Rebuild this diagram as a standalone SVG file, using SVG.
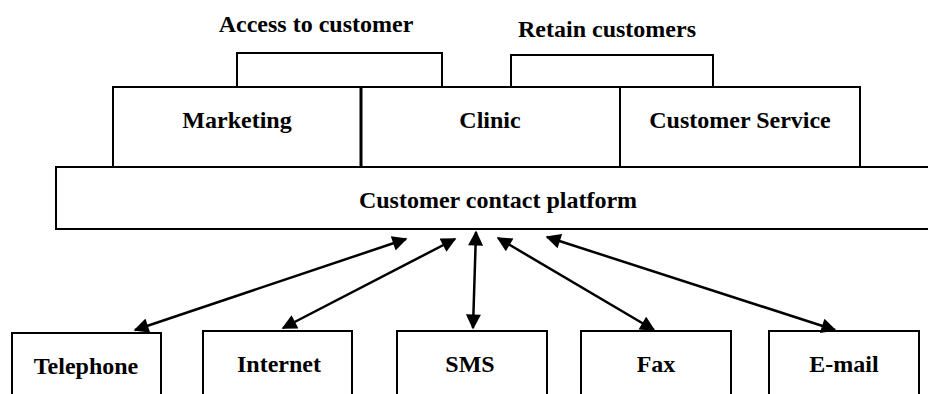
<svg xmlns="http://www.w3.org/2000/svg" width="928" height="394" viewBox="0 0 928 394">
<defs>
<style>
.box{fill:#fff;stroke:#000;stroke-width:2}
.br{fill:none;stroke:#000;stroke-width:2}
.t{font-family:"Liberation Serif","Times New Roman",serif;font-weight:bold;font-size:24px;fill:#000;text-anchor:middle}
.c{stroke:#000;stroke-width:2.5;fill:none;marker-start:url(#ah);marker-end:url(#ah)}
</style>
<marker id="ah" viewBox="0 0 10 10" refX="9" refY="5" markerWidth="6.5" markerHeight="6" orient="auto-start-reverse" markerUnits="strokeWidth">
<path d="M0,0 L10,5 L0,10 Z" fill="#000"/>
</marker>
</defs>
<rect width="928" height="394" fill="#fff"/>
<g id="access-label"><text class="t" x="316" y="32">Access to customer</text></g>
<g id="retain-label"><text class="t" x="607" y="37">Retain customers</text></g>
<g id="bracket-access"><polyline class="br" points="237,87 237,53 442,53 442,87"/></g>
<g id="bracket-retain"><polyline class="br" points="511,87 511,55 713,55 713,87"/></g>
<g id="marketing"><rect class="box" x="113" y="87" width="248" height="80"/><text class="t" x="237" y="128">Marketing</text></g>
<g id="clinic"><rect class="box" x="361" y="87" width="259" height="80"/><text class="t" x="490" y="128">Clinic</text></g>
<g id="customer-service"><rect class="box" x="620" y="87" width="240" height="80"/><text class="t" x="740" y="128">Customer Service</text></g>
<line x1="361" y1="87" x2="361" y2="167" stroke="#000" stroke-width="3"/>
<g id="platform"><rect class="box" x="56" y="167" width="880" height="62"/><text class="t" x="498" y="208">Customer contact platform</text></g>
<g id="telephone"><rect class="box" x="12" y="333" width="149" height="70"/><text class="t" x="86" y="374">Telephone</text></g>
<g id="internet"><rect class="box" x="203" y="331" width="149" height="72"/><text class="t" x="279" y="372">Internet</text></g>
<g id="sms"><rect class="box" x="397" y="331" width="150" height="72"/><text class="t" x="470" y="372">SMS</text></g>
<g id="fax"><rect class="box" x="581" y="331" width="150" height="72"/><text class="t" x="656" y="372">Fax</text></g>
<g id="email"><rect class="box" x="769" y="331" width="150" height="72"/><text class="t" x="844" y="372">E-mail</text></g>
<g id="connectors">
<line class="c" x1="135" y1="330" x2="406" y2="239"/>
<line class="c" x1="283" y1="328" x2="455" y2="239"/>
<line class="c" x1="473" y1="328" x2="476" y2="232"/>
<line class="c" x1="654" y1="330" x2="498" y2="238"/>
<line class="c" x1="835" y1="330" x2="547" y2="237"/>
</g>
</svg>
